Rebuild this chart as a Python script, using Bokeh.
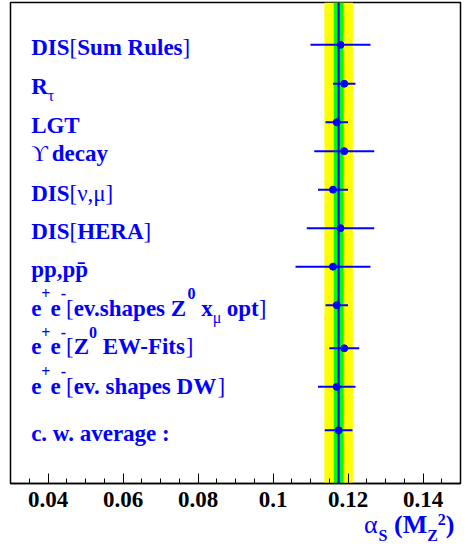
import numpy as np
from bokeh.plotting import figure
from bokeh.layouts import column
from bokeh.models import ColumnDataSource, BoxAnnotation, Span, SingleIntervalTicker, CustomJSTickFormatter
from bokeh.core.properties import value
from bokeh.embed import file_html
from bokeh.resources import INLINE

# ---------------- data ----------------
# label pieces: (text, kind)  kind: b=bold, r=regular, sup=superscript, sub=subscript(bold), rsub=subscript(regular)
label_parts = [
    [("DIS", "b"), ("[", "r"), ("Sum Rules", "b"), ("]", "r")],
    [("R", "b"), ("τ", "rsub")],
    [("LGT", "b")],
    [("ϒ", "r"), (" decay", "b")],
    [("DIS", "b"), ("[ν,μ]", "r")],
    [("DIS", "b"), ("[", "r"), ("HERA", "b"), ("]", "r")],
    [("pp,pp\u0304", "b")],
    [("e", "b"), ("+", "sup"), ("e", "b"), ("-", "sup"), ("[", "r"), ("ev.shapes Z", "b"), ("0", "sup"),
     (" x", "b"), ("μ", "rsub"), (" opt", "b"), ("]", "r")],
    [("e", "b"), ("+", "sup"), ("e", "b"), ("-", "sup"), ("[", "r"), ("Z", "b"), ("0", "sup"),
     (" EW-Fits", "b"), ("]", "r")],
    [("e", "b"), ("+", "sup"), ("e", "b"), ("-", "sup"), ("[", "r"), ("ev. shapes DW", "b"), ("]", "r")],
    [("c. w. average :", "b")],
]
row_y = [11.39, 10.38, 9.38, 8.63, 7.63, 6.63, 5.63, 4.63, 3.51, 2.51, 1.38]
alpha_s = [0.118, 0.119, 0.117, 0.119, 0.116, 0.118, 0.116, 0.117, 0.119, 0.117, 0.1175]
alpha_err = [0.008, 0.003, 0.003, 0.008, 0.004, 0.009, 0.010, 0.003, 0.004, 0.005, 0.0037]
average = 0.1175
inner_err = 0.0013
outer_err = 0.0038
axis_title_parts = [("α", "r"), ("S", "sub"), (" (M", "b"), ("Z", "sub"), ("2", "sup"), (")", "b")]

# ---------------- styling / layout ----------------
BLUE = "#0000ff"
FONT = "Liberation Serif"
label_x = 0.0355
label_shift_px = [10, 9.3, 9.7, 9.5, 10.3, 10.3, 9.3, 10, 5.5, 6.6, 9.7]
BASELINE_FIX = 0.3   # empirical correction of the rendered baseline, in em
MAIN_H = 517
OVERLAP = 30

WB = {' ': 250, '(': 333, ')': 333, '+': 570, ',': 250, '-': 333, '.': 250, ':': 333, '[': 333, ']': 333,
      'A': 722, 'D': 722, 'E': 667, 'F': 611, 'G': 778, 'H': 778, 'I': 389, 'L': 667, 'M': 944, 'R': 722,
      'S': 556, 'T': 667, 'W': 1000, 'Z': 667, 'a': 500, 'c': 444, 'd': 556, 'e': 444, 'g': 500, 'h': 556,
      'i': 278, 'l': 278, 'm': 833, 'o': 500, 'p': 556, 'r': 444, 's': 389, 't': 333, 'u': 556, 'v': 500,
      'w': 722, 'x': 500, 'y': 500, 'α': 560, 'τ': 440, 'ν': 500, 'μ': 520, 'ϒ': 650, '\u0304': 0}


def text_width(s, fs):
    return sum(WB.get(c, 500) for c in s) * fs / 1000.0


def compose(parts, size, small, up, down):
    out, x = [], 0.0
    for t, k in parts:
        fs = small if k in ("sup", "sub", "rsub") else size
        dy = -up if k == "sup" else (down if k in ("sub", "rsub") else 0)
        st = "normal" if k in ("r", "rsub") else "bold"
        stripped = t.lstrip(" ")
        x += text_width(t[:len(t) - len(stripped)], fs)   # leading blanks become an offset
        out.append((stripped, x, dy, fs, st))
        x += text_width(stripped, fs)
    return out, x


def pieces_source(groups, xs, ys, shifts, size, small, up, down, align_right=False, right_pad=0):
    cols = dict(x=[], y=[], text=[], xo=[], yo=[], fs=[], st=[])
    for parts, xv, yv, sh in zip(groups, xs, ys, shifts):
        pieces, total = compose(parts, size, small, up, down)
        base = -total - right_pad if align_right else 0
        for t, xo, dy, fs, st in pieces:
            cols["x"].append(xv)
            cols["y"].append(yv)
            cols["text"].append(t)
            cols["xo"].append(base + xo)
            cols["yo"].append(sh + dy - BASELINE_FIX * fs)
            cols["fs"].append(f"{fs}px")
            cols["st"].append(st)
    return ColumnDataSource(cols)


p = figure(width=468, height=MAIN_H, x_range=(0.03, 0.15), y_range=(0, 12.49),
           y_axis_location=None, output_backend="svg", toolbar_location=None,
           min_border_left=10, min_border_right=8, min_border_top=2, min_border_bottom=MAIN_H - 483)
p.title.visible = False
p.xgrid.visible = False
p.ygrid.visible = False
p.outline_line_color = "black"
p.outline_line_width = 1.5
p.background_fill_color = "white"
p.border_fill_color = "white"

# bands and average line
p.add_layout(BoxAnnotation(left=average - outer_err, right=average + outer_err, fill_color="#ffff00",
                           fill_alpha=1, line_alpha=0, level="underlay"))
p.add_layout(BoxAnnotation(left=average - inner_err, right=average + inner_err, fill_color="#00ff00",
                           fill_alpha=1, line_alpha=0, level="underlay"))
p.add_layout(Span(location=average, dimension="height", line_color=BLUE, line_width=2, level="underlay"))

src = ColumnDataSource(dict(y=row_y, x=alpha_s,
                            lo=[a - e for a, e in zip(alpha_s, alpha_err)],
                            hi=[a + e for a, e in zip(alpha_s, alpha_err)]))
p.segment(x0="lo", x1="hi", y0="y", y1="y", source=src, line_color=BLUE, line_width=2)
p.scatter(x="x", y="y", source=src, size=7, fill_color=BLUE, line_color=BLUE)

lab_src = pieces_source(label_parts, [label_x] * len(row_y), row_y, label_shift_px, 23, 16, 17, 7)
p.text(x="x", y="y", text="text", x_offset="xo", y_offset="yo", text_font_size="fs",
       text_font_style="st", text_font=value(FONT), text_color=BLUE, text_baseline="alphabetic",
       text_align="left", source=lab_src)

# x axis
ax = p.xaxis[0]
ax.ticker = SingleIntervalTicker(interval=0.02, num_minor_ticks=4)
ax.formatter = CustomJSTickFormatter(code="return String(parseFloat(tick.toFixed(3)));")
ax.major_tick_in = 10
ax.major_tick_out = 0
ax.minor_tick_in = 5
ax.minor_tick_out = 0
ax.axis_line_color = "black"
ax.axis_line_width = 1.5
ax.major_label_text_font = FONT
ax.major_label_text_font_style = "bold"
ax.major_label_text_font_size = "23px"
ax.major_label_text_color = "black"
ax.major_label_standoff = 8

# axis title strip below the plot (transparent, slightly overlapping the axis area)
strip_h = 550 - MAIN_H + OVERLAP
t = figure(width=468, height=strip_h, x_range=(0, 1), y_range=(0, 1), x_axis_location=None,
           y_axis_location=None, output_backend="svg", toolbar_location=None, min_border=0,
           margin=(-OVERLAP, 0, 0, 0))
t.title.visible = False
t.xgrid.visible = False
t.ygrid.visible = False
t.outline_line_color = None
t.background_fill_alpha = 0
t.border_fill_alpha = 0
title_base = 1 - (531.7 - (MAIN_H - OVERLAP)) / strip_h
title_src = pieces_source([axis_title_parts], [1.0], [title_base], [0], 26, 16, 8.4, 8, align_right=True, right_pad=6)
t.text(x="x", y="y", text="text", x_offset="xo", y_offset="yo", text_font_size="fs",
       text_font_style="st", text_font=value(FONT), text_color=BLUE, text_baseline="alphabetic",
       text_align="left", source=title_src)

layout = column(p, t, spacing=0)
open("out.html", "w").write(file_html(layout, INLINE))
